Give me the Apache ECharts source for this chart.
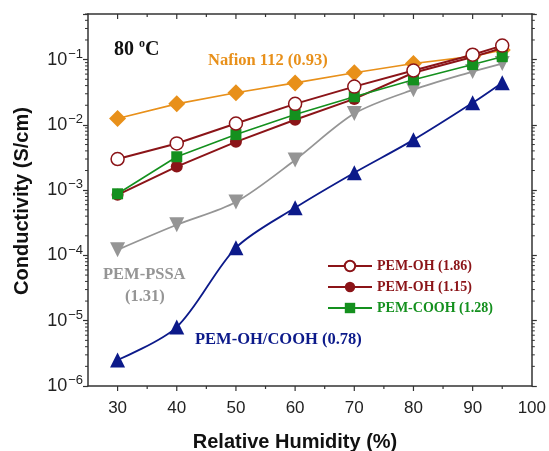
<!DOCTYPE html>
<html><head><meta charset="utf-8">
<script src="https://cdn.jsdelivr.net/npm/echarts@6/dist/echarts.min.js"></script>
<style>html,body{margin:0;padding:0;background:#fff}#c{width:549px;height:451px}</style>
</head><body><div id="c"></div>
<script>
// ---- data ----
const humidity = [30, 40, 50, 60, 70, 80, 90, 95];
const nafion112 = [0.0125, 0.021, 0.031, 0.044, 0.063, 0.087, 0.112, 0.14];
const pemOH186 = [0.0030, 0.0052, 0.0105, 0.021, 0.0386, 0.068, 0.119, 0.164];
const pemOH115 = [0.00085, 0.0023, 0.0055, 0.012, 0.025, 0.063, 0.11, 0.15];
const pemCOOH128 = [0.00088, 0.00325, 0.0071, 0.0144, 0.027, 0.049, 0.084, 0.111];
const pemPSSA131 = [0.000122, 0.000295, 0.00066, 0.0029, 0.0149, 0.0347, 0.0655, 0.087];
const pemOHCOOH078 = [2.5e-6, 8.0e-6, 1.31e-4, 5.37e-4, 0.00185, 0.0059, 0.0218, 0.0444];

const X_MIN = 25, X_MAX = 100, Y_MIN = 1e-6, Y_MAX = 0.5;
const xTickValues = [30, 35, 40, 45, 50, 55, 60, 65, 70, 75, 80, 85, 90, 95];
const yMinorTicks = [];
for (let e = -6; e <= -1; e++) {
  for (let m = 2; m <= 9; m++) {
    const v = m * Math.pow(10, e);
    if (v <= Y_MAX) yMinorTicks.push(v);
  }
}

const pair = (ys) => humidity.map((x, i) => [x, ys[i]]);
const AX = '#333';
const SERIF = "'Liberation Serif','Times New Roman',serif";
const SANS = "'Liberation Sans',Arial,sans-serif";

const C_ORANGE = '#e8901a', C_RED = '#8b1418', C_GREEN = '#14901e', C_GRAY = '#959595', C_NAVY = '#0c1a8a';
const LBL = 16.5;

const chart = echarts.init(document.getElementById('c'), null, {renderer: 'canvas'});

const option = {
  animation: false,
  backgroundColor: '#fff',
  grid: {left: 88, right: 17, top: 14, bottom: 65},
  xAxis: [{
    type: 'value', min: X_MIN, max: X_MAX, interval: 5, position: 'bottom',
    axisLine: {show: true, lineStyle: {color: AX, width: 1.5}},
    axisTick: {show: false},
    splitLine: {show: false},
    axisLabel: {
      margin: 14, color: '#222', fontFamily: SANS, fontSize: 17,
      formatter: (v) => (v % 10 === 0 && v > X_MIN) ? String(v) : ''
    }
  }, {
    type: 'value', min: X_MIN, max: X_MAX, interval: 5, position: 'top',
    axisLine: {show: true, lineStyle: {color: AX, width: 1.5}},
    axisTick: {show: false}, axisLabel: {show: false}, splitLine: {show: false}
  }],
  yAxis: [{
    type: 'log', logBase: 10, min: Y_MIN, max: Y_MAX, position: 'left',
    axisLine: {show: true, lineStyle: {color: AX, width: 1.5}},
    axisTick: {show: true, length: 5, lineStyle: {color: AX, width: 1.2}},
    splitLine: {show: false},
    axisLabel: {
      margin: 5, color: '#222', fontFamily: SANS,
      formatter: (v) => {
        const l = Math.log10(v), e = Math.round(l);
        if (Math.abs(l - e) > 1e-6) return '';
        return '{b|10}{s|' + String(e).replace('-', '\u2212') + '}';
      },
      rich: {
        b: {fontSize: 18, lineHeight: 24, fontFamily: SANS, color: '#222'},
        s: {fontSize: 13, lineHeight: 14, verticalAlign: 'top', fontFamily: SANS, color: '#222', padding: [0, 0, 0, 1]}
      }
    }
  }, {
    type: 'log', logBase: 10, min: Y_MIN, max: Y_MAX, position: 'right',
    axisLine: {show: true, lineStyle: {color: AX, width: 1.5}},
    axisTick: {show: true, length: 5, lineStyle: {color: AX, width: 1.2}},
    axisLabel: {show: false}, splitLine: {show: false}
  }],
  legend: {
    orient: 'vertical', left: 322, top: 254, itemWidth: 44, itemHeight: 13, itemGap: 7,
    selectedMode: false,
    textStyle: {fontFamily: SERIF, fontWeight: 'bold', fontSize: 14},
    data: [
      {name: 'PEM-OH (1.86)', textStyle: {color: C_RED}},
      {name: 'PEM-OH (1.15)', textStyle: {color: C_RED}},
      {name: 'PEM-COOH (1.28)', textStyle: {color: C_GREEN}}
    ]
  },
  series: [
    {
      name: 'Nafion 112 (0.93)', type: 'line', data: pair(nafion112),
      symbol: 'diamond', symbolSize: 17,
      lineStyle: {color: C_ORANGE, width: 1.6}, itemStyle: {color: C_ORANGE}, z: 2
    },
    {
      name: 'PEM-PSSA (1.31)', type: 'line', data: pair(pemPSSA131), smooth: 0.3,
      symbol: 'triangle', symbolRotate: 180, symbolSize: 15,
      lineStyle: {color: C_GRAY, width: 1.8}, itemStyle: {color: C_GRAY}, z: 3
    },
    {
      name: 'PEM-OH/COOH (0.78)', type: 'line', data: pair(pemOHCOOH078), smooth: 0.3,
      symbol: 'triangle', symbolSize: 15,
      lineStyle: {color: C_NAVY, width: 1.8}, itemStyle: {color: C_NAVY}, z: 3
    },
    {
      name: 'PEM-OH (1.15)', type: 'line', data: pair(pemOH115),
      symbol: 'circle', symbolSize: 12,
      lineStyle: {color: C_RED, width: 2}, itemStyle: {color: C_RED}, z: 4
    },
    {
      name: 'PEM-COOH (1.28)', type: 'line', data: pair(pemCOOH128),
      symbol: 'rect', symbolSize: 11,
      lineStyle: {color: C_GREEN, width: 1.6}, itemStyle: {color: C_GREEN}, z: 5
    },
    {
      name: 'PEM-OH (1.86)', type: 'line', data: pair(pemOH186),
      symbol: 'circle', symbolSize: 13,
      lineStyle: {color: C_RED, width: 2},
      itemStyle: {color: '#fff', borderColor: C_RED, borderWidth: 1.5}, z: 6
    },
    {
      name: 'yMinor', type: 'custom', silent: true, clip: false, z: 10,
      data: yMinorTicks.map(v => [X_MIN, v]),
      renderItem: (params, api) => {
        const v = api.value(1);
        const pl = api.coord([X_MIN, v]);
        const pr = api.coord([X_MAX, v]);
        const st = {stroke: AX, lineWidth: 1};
        return {type: 'group', children: [
          {type: 'line', shape: {x1: pl[0] - 3, y1: pl[1], x2: pl[0], y2: pl[1]}, style: st},
          {type: 'line', shape: {x1: pr[0], y1: pr[1], x2: pr[0] + 3, y2: pr[1]}, style: st}
        ]};
      }
    },
    {
      name: 'xTicks', type: 'custom', silent: true, clip: false, z: 10,
      data: xTickValues.map(x => [x, Y_MIN]),
      renderItem: (params, api) => {
        const x = api.value(0);
        const len = (x % 10 === 0) ? 5 : 3;
        const pb = api.coord([x, Y_MIN]);
        const pt = api.coord([x, Y_MAX]);
        const st = {stroke: AX, lineWidth: 1.2};
        return {type: 'group', children: [
          {type: 'line', shape: {x1: pb[0], y1: pb[1], x2: pb[0], y2: pb[1] + len}, style: st},
          {type: 'line', shape: {x1: pt[0], y1: pt[1], x2: pt[0], y2: pt[1] + len}, style: st}
        ]};
      }
    }
  ],
  graphic: [
    {
      type: 'text', left: 114, top: 38, z: 20,
      style: {
        text: '{n|80 }{o|o}{n|C}',
        rich: {
          n: {fontFamily: SERIF, fontWeight: 'bold', fontSize: 20, lineHeight: 24, fill: '#111'},
          o: {fontFamily: SERIF, fontWeight: 'bold', fontSize: 12, lineHeight: 11, verticalAlign: 'top', fill: '#111'}
        }
      }
    },
    {type: 'text', left: 208, top: 52, z: 20,
      style: {text: 'Nafion 112 (0.93)', fontFamily: SERIF, fontWeight: 'bold', fontSize: LBL, fill: C_ORANGE}},
    {type: 'text', left: 103, top: 266, z: 20,
      style: {text: 'PEM-PSSA', fontFamily: SERIF, fontWeight: 'bold', fontSize: LBL, fill: C_GRAY}},
    {type: 'text', left: 125, top: 288, z: 20,
      style: {text: '(1.31)', fontFamily: SERIF, fontWeight: 'bold', fontSize: LBL, fill: C_GRAY}},
    {type: 'text', left: 195, top: 331, z: 20,
      style: {text: 'PEM-OH/COOH (0.78)', fontFamily: SERIF, fontWeight: 'bold', fontSize: LBL, fill: C_NAVY}},
    {type: 'text', x: 295, y: 442, z: 20,
      style: {text: 'Relative Humidity (%)', fontFamily: SANS, fontWeight: 'bold', fontSize: 20, fill: '#111',
        textAlign: 'center', textVerticalAlign: 'middle'}},
    {type: 'text', x: 22, y: 201, rotation: Math.PI / 2, z: 20,
      style: {text: 'Conductivity (S/cm)', fontFamily: SANS, fontWeight: 'bold', fontSize: 20, fill: '#111',
        textAlign: 'center', textVerticalAlign: 'middle'}}
  ]
};
chart.setOption(option);
</script>
</body></html>
